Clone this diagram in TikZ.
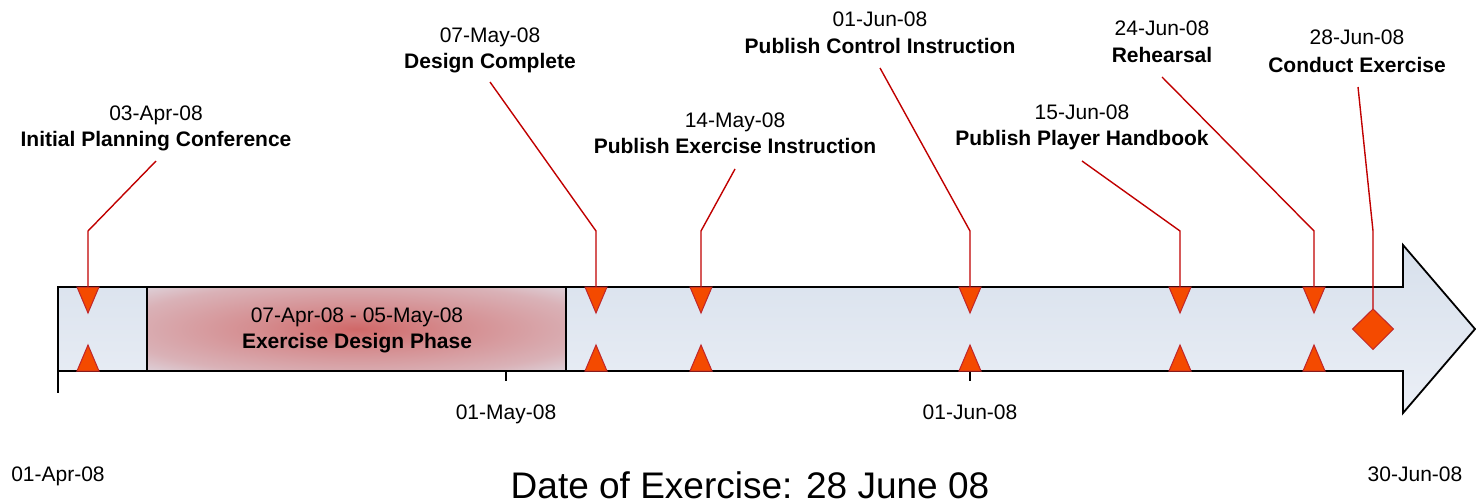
\documentclass[tikz,border=0pt]{standalone}
\usepackage{fontspec}
\setmainfont{Liberation Sans}
\definecolor{leader}{HTML}{C00000}
\definecolor{mkfill}{HTML}{F44A00}
\definecolor{mkdraw}{HTML}{C0262A}
\definecolor{bartop}{HTML}{D7E0EC}
\definecolor{barbot}{HTML}{EBEFF6}
\definecolor{phasemid}{HTML}{D06868}
\definecolor{phaseedge}{HTML}{E0E3EC}
\pgfdeclareradialshading{phaseshade}{\pgfpoint{0bp}{0bp}}{color(0bp)=(phasemid); color(12bp)=(phasemid!70!phaseedge); color(28bp)=(phasemid!40!phaseedge); color(40bp)=(phaseedge); color(100bp)=(phaseedge)}
\tikzset{
  datelbl/.style={font=\fontsize{10.5pt}{13pt}\selectfont, anchor=base, inner sep=0pt},
  titlelbl/.style={font=\fontsize{10.5pt}{13pt}\selectfont\bfseries, anchor=base, inner sep=0pt},
  leaderline/.style={draw=leader, line width=0.7pt},
  mkshape/.style={fill=mkfill, draw=mkdraw, line width=0.5pt, line join=miter},
  outline/.style={draw=black, line width=0.9pt},
  ticklbl/.style={font=\fontsize{10.5pt}{13pt}\selectfont, anchor=base, inner sep=0pt}
}
\begin{document}
\begin{tikzpicture}[x=0.5pt, y=-0.5pt]
\useasboundingbox (0,0) rectangle (1476,503);
% bar with arrow head
\shade[top color=bartop, bottom color=barbot]
  (58,287) -- (1403,287) -- (1403,245) -- (1475,329) -- (1403,413) -- (1403,371) -- (58,371) -- cycle;
% design phase shading
\shade[shading=phaseshade] (147,287) rectangle (566,371);
\draw[outline, line join=miter]
  (58,287) -- (1403,287) -- (1403,245) -- (1475,329) -- (1403,413) -- (1403,371) -- (58,371) -- cycle;
\draw[outline] (147,287) -- (147,371);
\draw[outline] (566,287) -- (566,371);
% axis ticks
\draw[black, line width=0.7pt] (58,371) -- (58,393);
\draw[black, line width=0.7pt] (506,371) -- (506,381);
\draw[black, line width=0.7pt] (970,371) -- (970,381);
% phase label
\node[datelbl] (pd) at (357,322) {07-Apr-08 - 05-May-08};
\node[titlelbl] (pt) at (357,348) {Exercise Design Phase};
% milestones
\foreach \i/\mx/\tx/\ty/\lx/\db/\tb/\dt/\tt in {
  1/88/156/161/156/120/146/03-Apr-08/Initial Planning Conference,
  2/596/490/82/490/42/68/07-May-08/Design Complete,
  3/701/735/169/735/127/153/14-May-08/Publish Exercise Instruction,
  4/970/880/68/880/26/53/01-Jun-08/Publish Control Instruction,
  5/1180/1082/161/1082/119/145/15-Jun-08/Publish Player Handbook,
  6/1314/1162/77/1162/35/62/24-Jun-08/Rehearsal}{
  \coordinate (m\i) at (\mx,287);
  \coordinate (b\i) at (\mx,231);
  \coordinate (e\i) at (\tx,\ty);
  \draw[leaderline] (m\i) -- (b\i) -- (e\i);
  \draw[mkshape] (\mx-11,287) -- (\mx+11,287) -- (\mx,313) -- cycle;
  \draw[mkshape] (\mx-11,371) -- (\mx+11,371) -- (\mx,345) -- cycle;
  \node[datelbl] (d\i) at (\lx,\db) {\dt};
  \node[titlelbl] (t\i) at (\lx,\tb) {\tt};
}
% conduct exercise (diamond)
\coordinate (m7) at (1373,309);
\coordinate (b7) at (1373,231);
\coordinate (e7) at (1358,87);
\draw[leaderline] (m7) -- (b7) -- (e7);
\draw[mkshape] (1373,309) -- (1393.5,329) -- (1373,349.5) -- (1352.5,329) -- cycle;
\node[datelbl] (d7) at (1357,44) {28-Jun-08};
\node[titlelbl] (t7) at (1357,72) {Conduct Exercise};
% axis labels
\node[ticklbl] (a1) at (506,419) {01-May-08};
\node[ticklbl] (a2) at (970,419) {01-Jun-08};
\node[ticklbl] (a0) at (58,481) {01-Apr-08};
\node[ticklbl] (a3) at (1415,481) {30-Jun-08};
\node[anchor=base, inner sep=0pt, font=\fontsize{18.5pt}{22pt}\selectfont] (ex) at (750,498) {Date of Exercise: 28 June 08};
\end{tikzpicture}
\end{document}
